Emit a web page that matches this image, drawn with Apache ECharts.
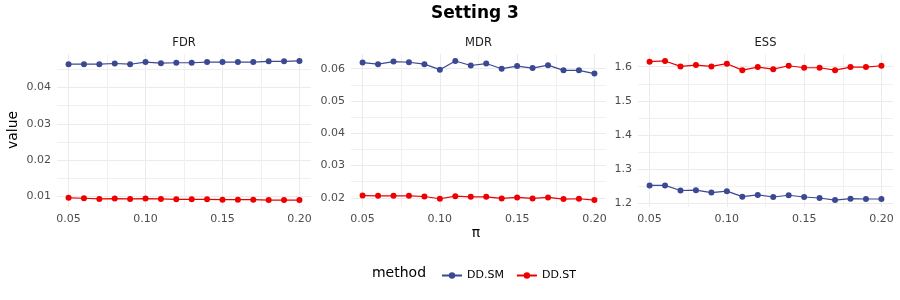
<!DOCTYPE html>
<html><head><meta charset="utf-8">
<script src="https://cdn.jsdelivr.net/npm/echarts@6/dist/echarts.min.js"></script>
<style>html,body{margin:0;padding:0;background:#fff}#c{width:900px;height:300px}</style>
</head><body><div id="c"></div>
<script>
// ---- data ----
const pi = [0.05,0.06,0.07,0.08,0.09,0.10,0.11,0.12,0.13,0.14,0.15,0.16,0.17,0.18,0.19,0.20];
const methods = ['DD.SM','DD.ST'];
const panels = ['FDR','MDR','ESS'];
const fdrSM = [0.0464,0.0464,0.0464,0.0466,0.0464,0.0470,0.0467,0.0468,0.0468,0.0470,0.0470,0.0470,0.0470,0.0472,0.0472,0.0473];
const fdrST = [0.0096,0.0095,0.0093,0.0094,0.0093,0.0094,0.0093,0.0092,0.0092,0.0092,0.0091,0.0091,0.0091,0.0090,0.0090,0.0090];
const mdrSM = [0.0619,0.0614,0.0622,0.0620,0.0614,0.0597,0.0624,0.0610,0.0616,0.0600,0.0608,0.0602,0.0611,0.0595,0.0595,0.0585];
const mdrST = [0.0207,0.0206,0.0206,0.0206,0.0204,0.0197,0.0205,0.0203,0.0203,0.0198,0.0201,0.0198,0.0201,0.0196,0.0197,0.0193];
const essSM = [1.252,1.252,1.237,1.238,1.231,1.235,1.219,1.224,1.218,1.223,1.218,1.215,1.209,1.213,1.212,1.212];
const essST = [1.615,1.617,1.601,1.605,1.601,1.609,1.590,1.599,1.593,1.603,1.597,1.597,1.590,1.599,1.599,1.603];
const xTicks = [0.05,0.10,0.15,0.20];
const xMinor = [0.075,0.125,0.175];
const fdrTicks = [0.01,0.02,0.03,0.04];
const fdrMinor = [0.015,0.025,0.035,0.045];
const mdrTicks = [0.02,0.03,0.04,0.05,0.06];
const mdrMinor = [0.025,0.035,0.045,0.055];
const essTicks = [1.2,1.3,1.4,1.5,1.6];
const essMinor = [1.25,1.35,1.45,1.55];

// ---- layout / style ----
const colors = ['#3B4992','#EE0000'];
const gridPos = [{left:57,width:254},{left:351,width:255},{left:638,width:255}];
const TOP = 54, H = 153;
const seriesSets = [[fdrSM,fdrST],[mdrSM,mdrST],[essSM,essST]];
const yTicks = [fdrTicks, mdrTicks, essTicks];
const yMinor = [fdrMinor, mdrMinor, essMinor];
const yDigits = [2,2,1];

function range(arrs){
  let mn=Infinity,mx=-Infinity;
  arrs.forEach(a=>a.forEach(v=>{if(v<mn)mn=v;if(v>mx)mx=v;}));
  const e=(mx-mn)*0.05; return [mn-e,mx+e];
}
const xr = (()=>{const e=(pi[pi.length-1]-pi[0])*0.05;return [pi[0]-e,pi[pi.length-1]+e];})();

const grid=[],xAxis=[],yAxis=[],series=[],graphic=[];
const gridLine = {show:true,lineStyle:{color:'#EBEBEB',width:1}};
const minorLine = {show:true,lineStyle:{color:'#F0F0F0',width:1}};
for(let p=0;p<3;p++){
  grid.push({left:gridPos[p].left,width:gridPos[p].width,top:TOP,height:H});
  const yr = range(seriesSets[p]);
  // minor x
  xAxis.push({type:'value',gridIndex:p,position:'bottom',offset:0,min:xr[0],max:xr[1],
    axisLine:{show:false},axisLabel:{show:false},
    axisTick:{show:false,customValues:xMinor},splitLine:minorLine});
  // minor y
  yAxis.push({type:'value',gridIndex:p,position:'left',offset:0,min:yr[0],max:yr[1],
    axisLine:{show:false},axisLabel:{show:false},
    axisTick:{show:false,customValues:yMinor[p]},splitLine:minorLine});
  // major x
  xAxis.push({type:'value',gridIndex:p,position:'bottom',offset:0,min:xr[0],max:xr[1],
    axisLine:{show:false},axisTick:{show:false,customValues:xTicks},
    axisLabel:{customValues:xTicks,formatter:v=>v.toFixed(2),color:'#4D4D4D',fontSize:11,
      fontFamily:'DejaVu Sans',margin:7},
    splitLine:gridLine});
  // major y
  const d=yDigits[p];
  yAxis.push({type:'value',gridIndex:p,position:'left',offset:0,min:yr[0],max:yr[1],
    axisLine:{show:false},axisTick:{show:false,customValues:yTicks[p]},
    axisLabel:{customValues:yTicks[p],formatter:v=>v.toFixed(d),color:'#4D4D4D',fontSize:11,
      fontFamily:'DejaVu Sans',margin:6},
    splitLine:gridLine});
  for(let m=0;m<2;m++){
    series.push({type:'line',name:methods[m],xAxisIndex:2*p+1,yAxisIndex:2*p+1,
      data:pi.map((x,i)=>[x,seriesSets[p][m][i]]),
      symbol:'circle',symbolSize:6,showSymbol:true,
      lineStyle:{color:colors[m],width:1.2},itemStyle:{color:colors[m]},
      z:3+m});
  }
  graphic.push({type:'text',x:gridPos[p].left+gridPos[p].width/2,y:43,
    style:{text:panels[p],fill:'#1A1A1A',font:'11.5px "DejaVu Sans"',align:'center',verticalAlign:'middle'}});
}
graphic.push({type:'text',x:475,y:14,style:{text:'Setting 3',fill:'#000',font:'bold 17px "DejaVu Sans"',align:'center',verticalAlign:'middle'}});
graphic.push({type:'text',x:476,y:233,style:{text:'π',fill:'#000',font:'14px "DejaVu Sans"',align:'center',verticalAlign:'middle'}});
graphic.push({type:'text',x:13,y:130,rotation:Math.PI/2,style:{text:'value',fill:'#000',font:'14px "DejaVu Sans"',align:'center',verticalAlign:'middle'}});
graphic.push({type:'text',x:399,y:273,style:{text:'method',fill:'#000',font:'14px "DejaVu Sans"',align:'center',verticalAlign:'middle'}});

const chart = echarts.init(document.getElementById('c'),null,{renderer:'canvas'});
chart.setOption({
  animation:false,
  backgroundColor:'#fff',
  grid, xAxis, yAxis, series,
  legend:{data:methods,left:436,top:265,itemWidth:20,itemHeight:8,itemGap:12,
    textStyle:{fontSize:11,color:'#000',fontFamily:'DejaVu Sans'}},
  graphic
});
</script></body></html>
